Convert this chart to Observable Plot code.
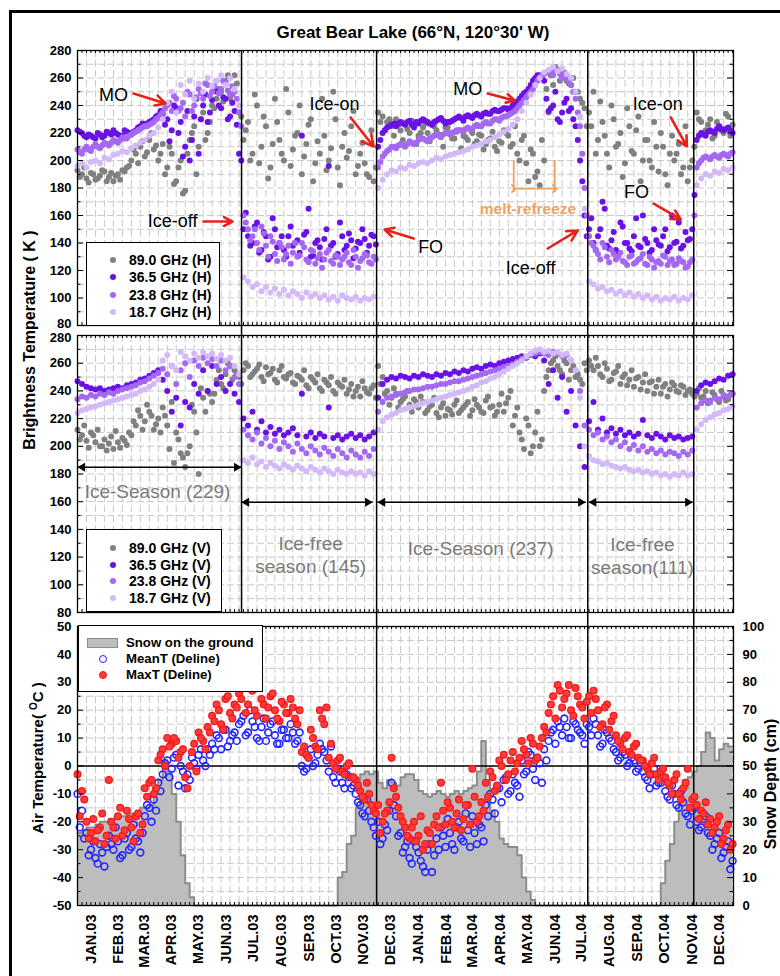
<!DOCTYPE html>
<html>
<head>
<meta charset="utf-8">
<script src="https://cdn.jsdelivr.net/npm/d3@7"></script>
<script src="https://cdn.jsdelivr.net/npm/@observablehq/plot@0.6"></script>
<style>
  html,body{margin:0;padding:0;background:#fff;}
  #wrap{position:relative;width:780px;height:976px;overflow:hidden;background:#fff;font-family:"Liberation Sans",Arial,Helvetica,sans-serif;color:#000;}
  #border{position:absolute;left:9px;top:10px;width:900px;height:1000px;border-left:3px solid #000;border-top:3px solid #000;}
  #title{position:absolute;top:23px;left:413px;transform:translateX(-50%);white-space:nowrap;font-size:17px;font-weight:bold;}
  .ylab{position:absolute;white-space:nowrap;font-weight:bold;transform:translate(-50%,-50%) rotate(-90deg);}
  .legend{position:absolute;background:#fff;border:1px solid #000;box-sizing:border-box;font-weight:bold;}
  .legend span{position:absolute;white-space:nowrap;line-height:1;}
</style>
</head>
<body>
<div id="wrap">
  <div id="border"></div>
  <div id="title">Great Bear Lake (66°N, 120°30' W)</div>
</div>
<script>
// ---------------- DATA ----------------
// "A" arrays: samples every 5 days from 1 Jan 2003 (147 values)
// "B" arrays: the in-between samples, 2.5 days later (146 values)
const monthLabels = ["JAN","FEB","MAR","APR","MAY","JUN","JUL","AUG","SEP","OCT","NOV","DEC"];
const freqs = ["89.0", "36.5", "23.8", "18.7"];

// Horizontal polarisation brightness temperature (K)
const h89 = [193,190,187,191,186,189,192,188,185,190,
  193,195,200,205,210,203,215,208,200,212,
  195,205,185,200,178,215,225,210,235,220,
  240,245,250,258,245,262,235,215,228,205,
  240,210,225,195,245,215,200,235,208,220,
  190,212,230,198,205,218,200,250,195,210,
  202,225,190,205,198,188,185,235,232,228,
  225,230,222,227,220,225,218,224,220,226,
  222,218,224,220,216,222,218,215,220,214,
  218,212,216,210,214,222,218,212,205,215,
  198,208,188,182,200,235,255,265,262,258,
  255,250,245,238,235,250,215,228,205,240,
  210,220,198,225,205,232,200,215,195,210,
  220,190,205,200,212,195,185,200,235,228,
  222,230,218,225,220,232,226];
const h89b = [188,195,184,190,187,193,185,191,189,186,192,196,
  208,198,214,206,220,211,
  205,190,210,183,195,176,
  205,220,190,230,215,228,
  238,252,243,262,248,256,
  232,
  222,200,248,198,232,187,212,228,205,252,196,218,240,203,226,185,214,245,193,209,230,182,220,207,236,196,213,190,222,195,
  228,222,230,218,226,215,223,229,212,220,227,214,225,219,210,224,216,221,209,217,223,212,219,208,215,221,207,213,220,210,
  225,200,218,185,205,192,215,
  252,262,268,258,264,256,260,250,242,
  225,
  225,205,243,218,195,230,212,188,238,207,222,185,215,200,228,192,210,182,218,205,190,225,195,210,
  230,220,226,216,228,222,234,218];
const h365 = [222,220,217,218,216,219,218,220,222,219,
  218,221,219,222,225,226,228,230,233,234,
  230,222,238,228,210,200,232,205,240,228,
  244,250,238,245,232,236,205,150,145,140,
  155,135,145,130,150,140,135,145,138,142,
  218,148,130,140,137,143,196,140,132,145,
  138,142,136,140,143,138,145,210,220,224,
  226,225,228,226,229,224,227,230,228,226,
  229,231,227,228,230,232,229,233,231,234,
  232,235,234,237,236,238,237,240,243,247,
  250,255,260,262,258,236,240,230,235,245,
  238,225,200,160,150,140,145,170,138,142,
  135,155,140,136,145,138,160,140,135,142,
  138,150,137,140,155,138,142,150,215,220,
  218,222,220,225,222,224,220];
const h365b = [221,218,219,217,220,217,221,219,220,218,222,220,221,224,227,227,229,232,
  236,226,214,240,220,203,236,215,245,230,248,235,252,240,246,230,242,226,
  200,
  162,138,152,133,148,128,158,137,145,130,152,140,133,146,165,131,142,128,150,138,130,155,135,147,129,141,150,133,146,139,
  215,222,225,227,227,227,228,226,228,229,229,227,228,230,229,228,229,231,231,232,232,233,233,234,234,236,236,237,238,238,
  242,245,249,252,258,262,260,245,238,250,228,242,236,230,215,185,
  145,158,135,150,165,136,148,132,152,140,134,158,137,143,133,150,139,145,134,160,141,136,148,143,175,
  218,219,221,221,223,223,223,222];
const h238 = [208,205,210,207,212,209,213,211,215,213,
  217,216,219,221,223,225,226,228,231,235,
  240,236,245,238,232,248,240,252,245,255,
  250,258,252,256,248,250,235,160,150,145,
  140,152,138,145,132,140,128,138,133,130,
  140,128,135,125,132,128,135,125,130,128,
  133,124,130,127,132,126,130,195,203,207,
  210,209,212,210,214,212,215,216,214,217,
  219,217,220,219,221,222,221,224,223,226,
  225,228,227,230,229,232,233,235,238,242,
  246,250,255,260,263,265,262,266,260,262,
  255,245,225,180,145,138,132,140,130,135,
  128,133,126,130,125,128,132,124,128,126,
  125,130,127,124,129,126,123,128,195,200,
  203,201,204,202,205,203,206];
const h238b = [206,208,208,210,210,211,212,213,214,215,216,218,220,222,224,225,227,230,
  233,238,242,247,236,242,250,236,246,249,256,247,254,249,258,251,254,245,
  225,
  155,142,150,135,147,130,141,127,137,132,125,140,131,137,126,134,129,122,133,127,131,124,130,126,135,122,129,131,125,128,
  199,205,208,210,211,211,212,213,213,216,215,216,218,218,219,220,220,222,222,223,223,225,225,227,227,229,230,231,232,234,
  236,240,244,248,252,258,262,264,264,265,263,261,258,250,235,205,
  160,140,135,128,137,126,132,130,127,124,131,126,129,125,130,122,127,131,124,128,125,127,122,126,160,
  198,202,202,203,203,204,204,205];
const h187 = [196,198,195,199,200,198,202,201,204,205,
  207,206,209,211,213,215,218,220,224,230,
  242,250,235,255,248,258,245,256,250,260,
  254,258,262,255,260,252,240,115,112,108,
  110,105,108,104,107,103,106,102,105,103,
  100,104,101,103,100,102,99,101,98,102,
  100,99,101,98,100,99,101,180,186,190,
  193,192,195,194,197,196,198,199,198,200,
  202,201,203,204,205,206,207,208,210,211,
  212,214,215,217,219,221,223,226,230,236,
  242,248,255,260,264,266,268,265,267,263,
  260,250,232,165,112,110,107,108,105,106,
  103,105,102,104,101,103,100,102,99,101,
  98,100,99,101,98,100,99,102,182,187,
  190,189,192,191,194,193,195];

// Vertical polarisation brightness temperature (K)
const v89 = [212,208,204,210,203,200,205,202,198,203,
  206,201,208,215,222,218,225,212,220,228,
  215,232,210,195,185,200,225,180,235,240,
  232,248,245,252,258,255,250,255,258,252,
  256,250,257,253,248,255,250,252,246,251,
  248,244,250,246,242,248,244,240,246,243,
  238,245,240,236,242,238,244,258,250,240,
  235,238,232,236,230,234,228,232,226,230,
  224,228,222,226,230,224,228,232,226,230,
  225,233,228,222,230,225,235,215,228,205,
  220,195,210,200,240,255,262,258,252,260,
  255,250,248,260,262,255,258,250,256,248,
  254,245,252,248,243,250,246,240,247,243,
  238,245,241,244,239,243,240,238,238,235,
  240,233,237,232,236,234,238];
const v89b = [205,215,199,208,212,200,197,207,211,199,204,210,
  218,226,212,230,222,216,
  210,222,198,188,205,192,
  195,230,210,242,225,238,
  238,255,242,260,248,252,
  245,
  260,250,254,259,247,252,256,246,258,249,253,245,250,255,242,248,252,240,246,250,238,244,248,241,236,243,247,239,242,235,
  245,238,230,242,228,234,240,225,232,236,224,229,235,221,231,227,223,233,226,230,222,234,228,224,236,229,225,238,231,240,
  222,210,198,215,200,225,205,
  250,260,265,255,262,248,258,252,245,
  255,
  258,264,252,260,247,253,258,250,244,255,249,241,252,246,238,248,243,236,246,240,244,237,241,236,
  242,236,231,239,234,240,233,237];
const v365 = [247,245,243,242,241,242,240,241,242,243,
  242,244,245,246,248,249,251,253,255,248,
  240,225,235,215,232,228,245,238,255,240,
  258,245,250,240,245,238,232,220,215,225,
  212,218,210,214,209,212,208,210,213,208,
  238,207,210,206,209,207,228,206,208,205,
  207,209,206,208,205,207,210,235,245,248,
  250,249,251,250,249,251,250,252,251,250,
  252,251,253,252,254,253,255,254,256,257,
  256,258,259,258,260,261,262,263,264,265,
  264,266,265,267,262,245,255,235,250,225,
  240,215,200,185,218,232,212,220,210,213,
  209,212,208,210,207,209,219,208,206,209,
  207,205,208,206,207,205,206,207,240,244,
  246,245,247,249,248,251,252];
const v238 = [234,236,235,237,236,238,237,239,238,240,
  241,242,243,244,246,247,249,251,253,256,
  252,258,245,255,260,250,262,258,264,260,
  263,258,262,255,258,250,245,212,208,205,
  210,202,206,200,204,198,203,200,196,202,
  198,195,200,197,194,199,196,193,198,195,
  192,197,194,192,196,193,198,225,232,235,
  236,237,238,239,240,241,241,242,243,243,
  244,245,245,246,247,247,248,249,250,251,
  252,253,254,255,256,257,258,259,261,263,
  264,266,267,268,267,266,268,267,265,266,
  262,255,240,215,212,208,210,205,207,203,
  205,200,203,198,201,197,200,196,198,195,
  197,194,196,195,193,196,194,197,228,231,
  233,232,235,234,237,236,238];
const v187 = [224,226,227,228,229,230,231,232,233,234,
  235,236,237,238,240,241,243,245,248,262,
  266,258,255,268,265,262,267,264,268,265,
  267,263,266,262,264,258,252,190,188,192,
  187,189,185,188,186,184,187,185,183,186,
  184,182,185,183,181,184,182,180,183,181,
  180,182,180,181,179,182,180,212,218,221,
  223,224,226,227,228,229,230,231,232,233,
  234,235,236,237,238,239,240,241,243,244,
  246,247,249,250,252,254,256,258,260,262,
  265,267,269,270,268,269,267,268,266,267,
  262,255,235,200,193,190,189,187,188,186,
  185,184,185,183,182,183,181,182,180,181,
  179,180,178,180,179,181,179,180,212,216,
  219,221,223,224,226,227,229];

// Air temperature at Deline (deg C)
const meanT = [-10,-16,-24,-30,-33,-28,-36,-25,-30,-27,
  -32,-24,-29,-26,-31,-18,-15,-12,-6,-3,
  2,-1,4,0,-8,-5,1,4,2,6,
  8,11,6,13,9,12,15,18,12,16,
  10,14,9,15,11,8,13,10,12,9,
  0,-1,6,1,8,5,-2,-4,-1,-6,
  -3,-8,-10,-14,-18,-16,-22,-20,-26,-23,
  -6,-18,-24,-29,-33,-27,-31,-36,-30,-38,
  -26,-22,-29,-24,-30,-20,-27,-23,-18,-28,
  -22,-14,-10,-17,-8,-5,-10,-3,-7,2,
  -2,4,-5,1,6,9,13,16,11,14,
  10,15,12,8,14,17,11,8,12,9,
  5,3,4,1,2,-1,-2,-5,-3,-7,
  -6,-9,-12,-10,-15,-13,-18,-16,-20,-22,
  -18,-25,-28,-24,-31,-27,-34];
const meanTb = [-22,-26,
  -32,-27,-35,-31,-29,
  -28,-22,-33,-26,-30,-21,-27,-24,
  -14,-20,-16,
  -9,1,-4,3,-7,-2,
  -3,3,-1,6,0,4,
  6,10,13,7,11,9,
  16,11,20,14,9,17,
  12,16,8,13,10,15,
  8,12,-2,3,0,4,
  6,2,7,
  -6,-2,-8,-4,-7,
  -13,-17,-12,-20,-25,
  -28,-21,-16,
  -14,-25,-31,-27,-35,-29,-34,-38,-28,-32,
  -30,-25,-19,-28,-22,-26,-17,-29,-24,-21,-27,
  -18,-12,-8,-13,-4,-9,-6,-11,
  -3,5,-1,3,-6,2,
  12,8,14,17,10,16,13,11,15,
  11,15,7,13,10,6,
  2,5,0,3,-2,1,
  -4,-8,-1,-6,-4,
  -11,-7,-14,-9,-17,
  -21,-15,-23,-19,-24,
  -30,-26,-33,-29,-37];
const maxT = [-3,-9,-20,-24,-27,-22,-28,-5,-22,-18,
  -25,-16,-22,-18,-24,-8,-6,-10,2,6,
  10,8,9,5,-4,0,8,12,9,14,
  18,22,15,24,19,22,26,30,22,27,
  18,24,17,25,20,16,22,19,21,15,
  5,4,13,7,20,15,3,1,2,-2,
  0,-4,-5,-9,-12,-10,-16,-14,-20,-16,
  3,-11,-18,-22,-26,-20,-25,-30,-23,-28,
  -18,-6,-21,-15,-22,-12,-19,-14,-1,-20,
  -13,-6,-2,-9,2,4,-3,5,1,9,
  4,10,2,7,14,19,25,29,21,26,
  20,28,22,17,25,27,20,15,22,16,
  11,8,10,5,7,3,2,-1,1,-3,
  -2,-4,-7,-5,-10,-8,-1,-12,-14,-16,
  -13,-19,-22,-18,-26,-21,-28];
const maxTb = [-18,-12,
  -26,-19,-23,-17,-25,
  -20,-26,-15,-23,-19,-27,-17,-21,
  -11,-5,-8,
  4,0,7,10,3,6,
  -8,5,-2,10,6,12,
  16,20,13,25,17,21,
  24,19,28,20,32,22,
  21,26,17,23,19,24,
  17,20,7,3,10,6,
  17,21,8,
  -1,3,-3,1,-4,
  -7,-11,-6,-14,-17,
  -24,-17,-13,
  -8,-15,-20,-25,-22,-27,-18,-28,-24,-21,
  -22,-16,-13,-20,-17,-23,-14,-21,-11,-18,-16,
  -11,-4,-7,0,-5,2,-2,3,
  6,1,8,3,10,12,
  22,17,27,24,29,18,25,21,23,
  19,24,14,21,13,18,
  9,6,11,4,8,2,
  0,-3,3,-5,-1,
  -6,-10,-3,-12,-6,
  -15,-11,-19,-17,-21,
  -24,-20,-28,-23,-30];

// Snow on the ground (cm), 5-day samples
const snowDepth = [26,27,28,28,29,30,30,31,31,32,
  32,33,33,34,35,35,36,40,45,52,
  48,40,30,18,8,3,0,0,0,0,
  0,0,0,0,0,0,0,0,0,0,
  0,0,0,0,0,0,0,0,0,0,
  0,0,0,0,0,0,0,0,10,12,
  22,25,35,47,48,47,48,44,42,45,
  44,43,46,47,47,45,41,40,39,40,
  41,40,39,40,41,40,41,42,43,48,
  59,45,34,30,24,22,21,21,18,10,
  5,2,0,0,0,0,0,0,0,0,
  0,0,0,0,0,0,0,0,0,0,
  0,0,0,0,0,0,0,0,0,0,
  8,16,22,30,38,42,46,48,50,55,
  62,60,52,56,58,57,57];

// Ice-off / ice-on dates (days after 1 Jan 2003)
const iceDays = [182.8, 333.3, 568.6, 686.7];

// ---------------- helpers ----------------
const T0 = Date.UTC(2003, 0, 1);
const D = d => new Date(T0 + d * 864e5);
const STEP = 5;
const datesA = h89.map((_, i) => D(i * STEP));
const datesB = h89b.map((_, i) => D(i * STEP + 2.5));
const colors = ["#808080", "#6a12e6", "#a468f2", "#d3b9f7"];
const GRID = "#c9c9c9";
const RED = "#e8221a";
const ORANGE = "#f4a15e";
const X_DOMAIN = [D(0), D(731)];
const PX_PER_DAY = 656 / 731;

const toRows = (vals, dates, freq) => vals.map((v, i) => ({date: dates[i], v, freq}));
const hData = [
  ...toRows(h89, datesA, "89.0"), ...toRows(h89b, datesB, "89.0"),
  ...toRows(h365, datesA, "36.5"), ...toRows(h365b, datesB, "36.5"),
  ...toRows(h238, datesA, "23.8"), ...toRows(h238b, datesB, "23.8"),
  ...toRows(h187, datesA, "18.7")
];
const vData = [
  ...toRows(v89, datesA, "89.0"), ...toRows(v89b, datesB, "89.0"),
  ...toRows(v365, datesA, "36.5"),
  ...toRows(v238, datesA, "23.8"),
  ...toRows(v187, datesA, "18.7")
];
const meanData = [...toRows(meanT, datesA), ...toRows(meanTb, datesB)];
const maxData = [...toRows(maxT, datesA), ...toRows(maxTb, datesB)];
const snowData = snowDepth.map((depth, i) => ({date: datesA[i], depth}));

const gridDays = d3.range(10, 731, 10).map(D);
const tickDays = d3.range(5, 731, 5).map(D);
const monthTicks = d3.range(24).map(m => new Date(Date.UTC(2003, m, 16)));
const fmtMonth = d => monthLabels[d.getUTCMonth()] + "." + String(d.getUTCFullYear()).slice(2);

const baseStyle = {fontFamily: '"Liberation Sans", Arial, Helvetica, sans-serif', fontSize: "13px", fontWeight: "bold", background: "transparent", color: "#000", overflow: "visible"};
const gridOpts = {stroke: GRID, strokeDasharray: "7,3", strokeWidth: 1};

function edgeTicks(lo, hi, minor, major, ppu) {
  const t = 3 / ppu;
  const ys = d3.range(lo, hi + 1e-9, minor);
  const len = d => ((Math.abs(d % major) < 1e-9) ? 6 : 3.5) / PX_PER_DAY;
  return [
    Plot.ruleX(tickDays, {y1: hi, y2: hi - t, stroke: "#000"}),
    Plot.ruleX(tickDays, {y1: lo, y2: lo + t, stroke: "#000"}),
    Plot.ruleY(ys, {x1: () => D(0), x2: d => D(len(d)), stroke: "#000"}),
    Plot.ruleY(ys, {x1: () => D(731), x2: d => D(731 - len(d)), stroke: "#000"})
  ];
}
const iceRule = (days, insetTop) => Plot.ruleX(days.map(D), {stroke: "#000", strokeWidth: 1.5, insetTop});
const yTickOpts = {tickSize: 0, tickPadding: 6, label: null, tickFormat: d => String(d)};

function btPanel(data, height, marginTop, nudge, extras) {
  const all = d3.range(80, 281, 20);
  const edge = nudge < 0 ? 80 : 280;
  return Plot.plot({
    width: 780, height, marginTop, marginBottom: 5, marginLeft: 77, marginRight: 47,
    style: baseStyle,
    x: {type: "utc", domain: X_DOMAIN, axis: null},
    y: {domain: [80, 280]},
    color: {domain: freqs, range: colors},
    marks: [
      Plot.ruleX(gridDays, gridOpts),
      Plot.ruleY(d3.range(90, 280, 10), gridOpts),
      Plot.dot(data, {x: "date", y: "v", fill: "freq", r: 3}),
      ...edgeTicks(80, 280, 10, 20, 1.38),
      Plot.frame({stroke: "#000", strokeWidth: 1.3}),
      Plot.axisY({...yTickOpts, ticks: all.filter(t => t !== edge)}),
      Plot.axisY({...yTickOpts, ticks: [edge], dy: nudge}),
      ...extras
    ]
  });
}

// ---------------- annotations ----------------
const p1Labels = [
  {d: 40, v: 247.3, t: "MO"}, {d: 106, v: 155.6, t: "Ice-off"}, {d: 286.5, v: 240.7, t: "Ice-on"},
  {d: 393.5, v: 136.7, t: "FO"}, {d: 435, v: 251.6, t: "MO"}, {d: 505, v: 121.5, t: "Ice-off"},
  {d: 646.6, v: 240.7, t: "Ice-on"}, {d: 623, v: 176.7, t: "FO"}
];
const p1Arrows = [
  {d1: 62.4, v1: 248.7, d2: 98.1, v2: 241.5}, {d1: 140.5, v1: 155.6, d2: 172.8, v2: 155.6},
  {d1: 304.3, v1: 231.3, d2: 330, v2: 210.2}, {d1: 374.6, v1: 143.3, d2: 342.3, v2: 149.8},
  {d1: 457.1, v1: 248.7, d2: 487.2, v2: 243.6}, {d1: 524, v1: 136, d2: 557.4, v2: 149.1},
  {d1: 661.1, v1: 231.3, d2: 679, v2: 210.2}, {d1: 642.1, v1: 168.7, d2: 672.2, v2: 157.1}
];
const meltBracket = {d1: 486.1, d2: 531.8, vLo: 176.7, vHi: 200, vArrow: 179.6, label: {d: 502, v: 164.4, t: "melt-refreeze"}};

const seasonArrows = [
  {d1: 0, d2: 182.8, v: 184.9}, {d1: 182.8, d2: 328.9, v: 159.6},
  {d1: 334.4, d2: 566.3, v: 159.6}, {d1: 569.7, d2: 685.6, v: 159.6}
];
const seasonLabels = [
  {d: 89.2, v: 168.1, t: "Ice-Season (229)"}, {d: 259.8, v: 122.3, t: "Ice-free\nseason (145)"},
  {d: 449.3, v: 127.1, t: "Ice-Season (237)"}, {d: 629.5, v: 121.2, t: "Ice-free\nseason(111)"}
];

// ---------------- panels ----------------
const wrap = document.getElementById("wrap");
function place(svg, top) {
  svg.style.position = "absolute";
  svg.style.left = "0px";
  svg.style.top = top + "px";
  wrap.appendChild(svg);
}

const p1 = btPanel(hData, 290, 10, -2, [
  iceRule(iceDays, 0),
  Plot.ruleX([meltBracket.d1, meltBracket.d2].map(D), {y1: meltBracket.vLo, y2: meltBracket.vHi, stroke: ORANGE, strokeWidth: 1.8}),
  Plot.link([meltBracket], {x1: a => D(a.d1), x2: a => D(a.d2), y1: "vArrow", y2: "vArrow", stroke: ORANGE, strokeWidth: 1.8, markerStart: "arrow", markerEnd: "arrow"}),
  Plot.text([meltBracket.label], {x: a => D(a.d), y: "v", text: "t", fill: ORANGE, fontSize: 15.5, fontWeight: "bold"}),
  Plot.arrow(p1Arrows, {x1: a => D(a.d1), y1: "v1", x2: a => D(a.d2), y2: "v2", stroke: RED, strokeWidth: 2.6, headLength: 9, headAngle: 55}),
  Plot.text(p1Labels, {x: a => D(a.d), y: "v", text: "t", fontSize: 18, fontWeight: "normal", fill: "#000"})
]);
place(p1, 40);

const p2 = btPanel(vData, 292, 10, 2, [
  iceRule(iceDays, -10),
  Plot.link(seasonArrows, {x1: a => D(a.d1), x2: a => D(a.d2), y1: "v", y2: "v", stroke: "#000", strokeWidth: 1.6}),
  Plot.dot(seasonArrows, {x: a => D(a.d1), y: "v", symbol: "triangle", r: 3.3, rotate: -90, dx: 5, fill: "#000"}),
  Plot.dot(seasonArrows, {x: a => D(a.d2), y: "v", symbol: "triangle", r: 3.3, rotate: 90, dx: -5, fill: "#000"}),
  Plot.text(seasonLabels, {x: a => D(a.d), y: "v", text: "t", fontSize: 19, fontWeight: "normal", fill: "#7a7a7a", lineHeight: 1.22})
]);
place(p2, 325);

const p3 = Plot.plot({
  width: 780, height: 364, marginTop: 14, marginBottom: 71, marginLeft: 77, marginRight: 47,
  style: baseStyle,
  x: {type: "utc", domain: X_DOMAIN},
  y: {domain: [-50, 50]},
  marks: [
    Plot.ruleX(gridDays, gridOpts),
    Plot.ruleY(d3.range(-45, 50, 5), gridOpts),
    Plot.areaY(snowData, {x: "date", y1: -50, y2: d => d.depth - 50, curve: "step-after", fill: "#bdbdbd"}),
    Plot.lineY(snowData, {x: "date", y: d => d.depth - 50, curve: "step-after", stroke: "#8c8c8c", strokeWidth: 2}),
    Plot.ruleY([0], {stroke: "#000", strokeWidth: 1.4}),
    iceRule(iceDays.slice(1), -14),
    Plot.dot(meanData, {x: "date", y: "v", r: 3.4, stroke: "#2424ff", strokeWidth: 1.6, fill: "none"}),
    Plot.dot(maxData, {x: "date", y: "v", r: 3.4, fill: "#ff3a3a", stroke: "#f01818", strokeWidth: 1.2}),
    ...edgeTicks(-50, 50, 5, 10, 2.79),
    Plot.frame({stroke: "#000", strokeWidth: 1.3}),
    Plot.axisY({anchor: "left", ticks: d3.range(-50, 51, 10), tickSize: 0, tickPadding: 6, label: null, tickFormat: d => String(d)}),
    Plot.axisY({anchor: "right", ticks: d3.range(-50, 51, 10), tickSize: 0, tickPadding: 9, label: null, tickFormat: d => String(d + 50)}),
    Plot.axisX({anchor: "bottom", ticks: monthTicks, tickSize: 0, tickPadding: 9, tickRotate: -90, label: null, tickFormat: fmtMonth, fontSize: 14.5})
  ]
});
place(p3, 612);

// ---------------- legends & axis titles (HTML) ----------------
function legend(left, top, width, height, fontSize, rows) {
  const box = document.createElement("div");
  box.className = "legend";
  Object.assign(box.style, {left: left + "px", top: top + "px", width: width + "px", height: height + "px", fontSize: fontSize + "px"});
  box.innerHTML = rows.map(r => r.swatch + `<span style="left:${r.tx}px;top:${r.y}px;transform:translateY(-50%)">${r.text}</span>`).join("");
  wrap.appendChild(box);
}
const dotSw = (x, y, c) => `<span style="left:${x - 3}px;top:${y - 3}px;width:6px;height:6px;border-radius:50%;background:${c}"></span>`;
legend(86, 242, 134, 84, 14, freqs.map((f, k) => ({swatch: dotSw(26, 17 + k * 17.3, colors[k]), tx: 42, y: 17 + k * 17.3, text: `${f} GHz (H)`})));
legend(86, 529, 136, 83, 14, freqs.map((f, k) => ({swatch: dotSw(26, 18 + k * 16.7, colors[k]), tx: 42, y: 18 + k * 16.7, text: `${f} GHz (V)`})));
legend(78, 625, 185, 67, 13.2, [
  {swatch: `<span style="left:8px;top:12px;width:31px;height:10px;box-sizing:border-box;background:#bdbdbd;border:1px solid #8c8c8c"></span>`, tx: 47, y: 17, text: "Snow on the ground"},
  {swatch: `<span style="left:20px;top:29px;width:8px;height:8px;box-sizing:border-box;border-radius:50%;border:1.6px solid #2424ff"></span>`, tx: 47, y: 33, text: "MeanT (Deline)"},
  {swatch: `<span style="left:20px;top:45px;width:8px;height:8px;box-sizing:border-box;border-radius:50%;background:#ff3a3a;border:1.2px solid #f01818"></span>`, tx: 47, y: 49, text: "MaxT (Deline)"}
]);

function ylab(html, x, y, size) {
  const el = document.createElement("div");
  el.className = "ylab";
  el.style.left = x + "px";
  el.style.top = y + "px";
  el.style.fontSize = size + "px";
  el.innerHTML = html;
  wrap.appendChild(el);
}
ylab("Brightness Temperature ( K )", 30, 340, 16);
ylab('Air Temperature( <span style="font-size:10px;position:relative;top:-6px">O</span>C )', 37, 758, 15);
ylab("Snow Depth (cm)", 771, 784, 16);
</script>
</body>
</html>
